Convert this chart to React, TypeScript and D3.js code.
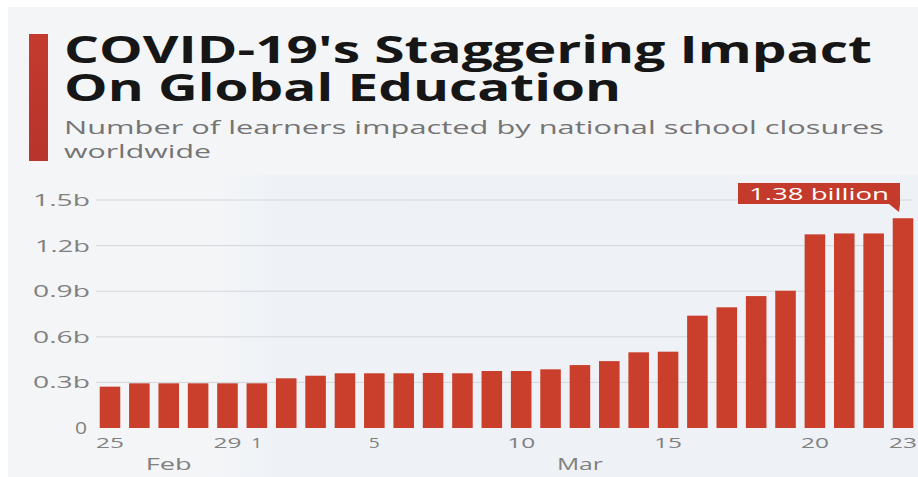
import React from "react";
import * as d3 from "d3";

const dates: string[] = [
  "Feb 25", "Feb 26", "Feb 27", "Feb 28", "Feb 29",
  "Mar 1", "Mar 2", "Mar 3", "Mar 4", "Mar 5", "Mar 6", "Mar 7", "Mar 8", "Mar 9", "Mar 10",
  "Mar 11", "Mar 12", "Mar 13", "Mar 14", "Mar 15", "Mar 16", "Mar 17", "Mar 18", "Mar 19",
  "Mar 20", "Mar 21", "Mar 22", "Mar 23",
];
const learnersBillions: number[] = [
  0.272, 0.294, 0.294, 0.294, 0.294,
  0.294, 0.327, 0.344, 0.36, 0.36, 0.36, 0.362, 0.36, 0.375, 0.375,
  0.386, 0.414, 0.44, 0.498, 0.502, 0.739, 0.794, 0.868, 0.903,
  1.274, 1.28, 1.28, 1.38,
];
const yTicks: number[] = [0, 0.3, 0.6, 0.9, 1.2, 1.5];
const yTickLabels: string[] = ["0", "0.3b", "0.6b", "0.9b", "1.2b", "1.5b"];
const xTickDates: string[] = ["Feb 25", "Feb 29", "Mar 1", "Mar 5", "Mar 10", "Mar 15", "Mar 20", "Mar 23"];
const months: string[] = ["Feb", "Mar"];
const titleLines: string[] = ["COVID-19's Staggering Impact", "On Global Education"];
const subtitleLines: string[] = ["Number of learners impacted by national school closures", "worldwide"];
const annotation = "1.38 billion";

export default function App() {
  const W = 918, H = 477;
  const x = d3.scaleBand<string>().domain(dates).range([95.3, 917.7]).paddingInner(0.3).paddingOuter(0.15);
  const y = d3.scaleLinear().domain([0, 1.5]).range([428, 200]);
  const bw = x.bandwidth();
  const cx = (d: string) => (x(d) as number) + bw / 2;

  const titleWidths = [808, 557];
  const subWidths = [820, 147];
  const yLabelWidths: Record<string, number> = { "0": 12, "0.3b": 57, "0.6b": 57, "0.9b": 57, "1.2b": 55, "1.5b": 57 };

  const monthDates = (m: string) => dates.filter((d) => d.startsWith(m));
  const last = dates[dates.length - 1];
  const lastVal = learnersBillions[learnersBillions.length - 1];

  return (
    <div style={{ position: "absolute", left: 0, top: 0 }}>
      <svg width={W} height={H} style={{ display: "block" }}>
        <defs>
          <linearGradient id="bg" x1="0" x2="1" y1="0" y2="0">
            <stop offset="0" stopColor="#f4f5f7" />
            <stop offset="0.22" stopColor="#f4f5f7" />
            <stop offset="0.3" stopColor="#eef2f7" />
            <stop offset="1" stopColor="#eef1f6" />
          </linearGradient>
          <linearGradient id="accent" x1="0" x2="0" y1="0" y2="1">
            <stop offset="0" stopColor="#c43a2e" />
            <stop offset="1" stopColor="#b8342c" />
          </linearGradient>
        </defs>
        <rect x={0} y={0} width={W} height={H} fill="#ffffff" />
        <rect x={8} y={7} width={W - 8} height={H - 7} fill="#f4f5f7" />
        <rect x={8} y={175} width={W - 8} height={H - 175} fill="url(#bg)" />

        {/* accent bar */}
        <rect x={29} y={34} width={19} height={127} fill="url(#accent)" />

        {/* title */}
        <text fontFamily="'Open Sans', sans-serif" fontWeight={700} fontSize={37} fill="#161616">
          {titleLines.map((t, i) => (
            <tspan key={t} x={64} y={63 + i * 38} textLength={titleWidths[i]} lengthAdjust="spacingAndGlyphs">{t}</tspan>
          ))}
        </text>
        <text fontFamily="'Open Sans', sans-serif" fontSize={19} fill="#747474">
          {subtitleLines.map((t, i) => (
            <tspan key={t} x={64} y={134 + i * 24} textLength={subWidths[i]} lengthAdjust="spacingAndGlyphs">{t}</tspan>
          ))}
        </text>

        {/* grid */}
        {yTicks.map((t, i) => (
          <g key={t}>
            {t > 0 && <line x1={96} x2={912} y1={y(t)} y2={y(t)} stroke="#d3d6db" strokeWidth={1} />}
            <text x={90} y={y(t) + 6} textAnchor="end" fontFamily="'Open Sans', sans-serif" fontSize={16}
              fill="#808080" textLength={yLabelWidths[yTickLabels[i]]} lengthAdjust="spacingAndGlyphs"
              dx={t === 0 ? -3 : 0}>{yTickLabels[i]}</text>
          </g>
        ))}

        {/* bars */}
        {dates.map((d, i) => (
          <rect key={d} x={x(d)} y={y(learnersBillions[i])} width={bw} height={y(0) - y(learnersBillions[i])}
            fill="#c93f2c" />
        ))}

        {/* annotation */}
        <g>
          <rect x={738} y={183} width={162} height={21} fill="#c43a2b" />
          <path d={`M ${cx(last) - 14} 204 L ${cx(last) - 3} 204 L ${cx(last) - 4} 212 Z`} fill="#c43a2b" />
          <text x={819} y={199.5} textAnchor="middle" fontFamily="'Open Sans', sans-serif" fontSize={16}
            fill="#ffffff" textLength={140} lengthAdjust="spacingAndGlyphs">{annotation}</text>
          <title>{`${last}: ${lastVal}b`}</title>
        </g>

        {/* x tick labels */}
        {xTickDates.map((d) => {
          const lbl = d.split(" ")[1];
          return (
            <text key={d} x={cx(d)} y={448} textAnchor="middle" fontFamily="'Open Sans', sans-serif" fontSize={15}
              fill="#808080" textLength={lbl.length === 1 ? 11 : 28} lengthAdjust="spacingAndGlyphs">{lbl}</text>
          );
        })}
        {months.map((m) => {
          const ds = monthDates(m);
          const mid = (cx(ds[0]) + cx(ds[ds.length - 1])) / 2;
          return (
            <text key={m} x={mid} y={470} textAnchor="middle" fontFamily="'Open Sans', sans-serif" fontSize={16}
              fill="#808080" textLength={46} lengthAdjust="spacingAndGlyphs">{m}</text>
          );
        })}
      </svg>
    </div>
  );
}
